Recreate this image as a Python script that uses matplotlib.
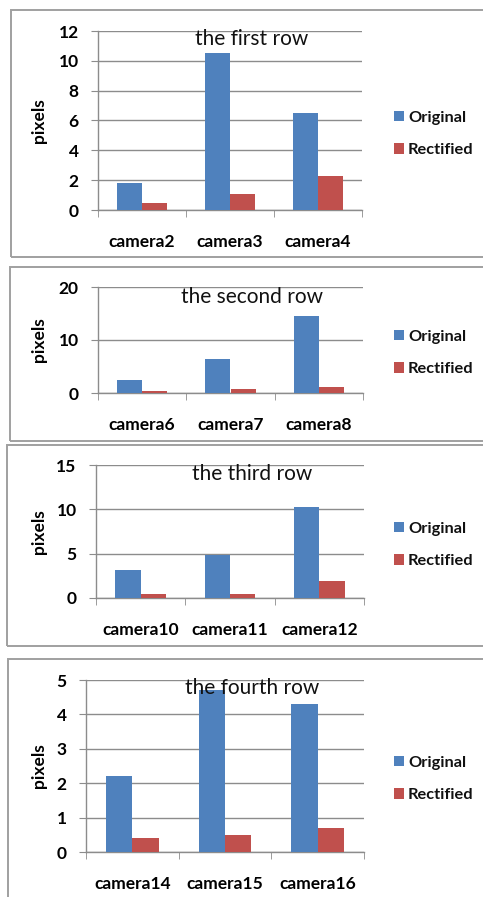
import numpy as np
import matplotlib
matplotlib.use("Agg")
import matplotlib.pyplot as plt
from matplotlib.patches import Rectangle

W, H = 483, 897

# per-row camera errors, in pixels
rows = ["the first row", "the second row", "the third row", "the fourth row"]
cameras = [
    ["camera2", "camera3", "camera4"],
    ["camera6", "camera7", "camera8"],
    ["camera10", "camera11", "camera12"],
    ["camera14", "camera15", "camera16"],
]
original = [
    [1.8, 10.5, 6.5],
    [2.5, 6.4, 14.6],
    [3.2, 4.8, 10.3],
    [2.2, 4.7, 4.3],
]
rectified = [
    [0.5, 1.1, 2.3],
    [0.3, 0.7, 1.1],
    [0.4, 0.5, 1.9],
    [0.4, 0.5, 0.7],
]
y_max = [12, 20, 15, 5]
y_step = [2, 10, 5, 1]

# layout in pixels: axes box (left, top, right, bottom), frame (left, top, bottom),
# title y, legend centre y
axes_px = [(98, 31, 362, 210), (98, 287, 363, 393), (96, 465, 364, 598), (86, 680, 364, 852)]
frame_px = [(11, 10, 257), (10, 267, 441), (7, 445, 646), (8, 659, 905)]
title_y = [39, 297, 474, 688]
legend_y = [134, 353, 545, 779]

BLUE = "#4F81BD"
RED = "#C0504D"
GRID = "#8c8c8c"
TXT = 12.5

plt.rcParams["font.family"] = ["Lato", "DejaVu Sans"]
plt.rcParams["text.color"] = "#111111"

fig = plt.figure(figsize=(W / 100, H / 100), dpi=100)


def to_fig(l, t, r, b):
    return [l / W, 1 - b / H, (r - l) / W, (b - t) / H]


for i in range(4):
    fl, ft, fb = frame_px[i]
    fig.patches.append(Rectangle((fl / W, 1 - fb / H), (W + 20 - fl) / W, (fb - ft) / H,
                                 transform=fig.transFigure, fill=False,
                                 edgecolor="#a0a0a0", linewidth=1.4))

    ax = fig.add_axes(to_fig(*axes_px[i]))
    x = np.arange(len(cameras[i]))
    w = 0.285
    b1 = ax.bar(x - w / 2, original[i], w, color=BLUE, label="Original", zorder=3)
    b2 = ax.bar(x + w / 2, rectified[i], w, color=RED, label="Rectified", zorder=3)

    ax.set_xlim(-0.5, len(x) - 0.5)
    ax.set_ylim(0, y_max[i])
    ax.set_yticks(np.arange(0, y_max[i] + 0.01, y_step[i]))
    ax.yaxis.grid(True, color=GRID, linewidth=1, zorder=0)
    ax.set_axisbelow(True)

    ax.set_xticks(x)
    ax.set_xticklabels(cameras[i], fontsize=TXT, fontweight="bold")
    ax.set_xticks(np.arange(-0.5, len(x), 1), minor=True)
    ax.tick_params(axis="x", which="major", length=0, pad=17)
    ax.tick_params(axis="x", which="minor", length=5, color=GRID, direction="out")
    ax.tick_params(axis="y", length=5, color=GRID, pad=9, labelsize=TXT)
    for lab in ax.get_yticklabels():
        lab.set_fontweight("bold")

    for s in ("top", "right"):
        ax.spines[s].set_visible(False)
    for s in ("left", "bottom"):
        ax.spines[s].set_color(GRID)
        ax.spines[s].set_linewidth(1)

    ax.set_ylabel("pixels", fontsize=TXT, fontweight="bold")
    ax.yaxis.set_label_coords((47 - axes_px[i][0]) / (axes_px[i][2] - axes_px[i][0]), 0.5)

    fig.text(252 / W, 1 - title_y[i] / H, rows[i], ha="center", va="center", fontsize=15)

    fig.legend([b1, b2], ["Original", "Rectified"], loc="center left",
               bbox_to_anchor=(394 / W, 1 - legend_y[i] / H), frameon=False,
               prop={"size": 11.8, "weight": "bold"}, handlelength=0.6, handleheight=0.6,
               handletextpad=0.25, labelspacing=1.15, borderpad=0, borderaxespad=0)

fig.savefig("out.png", dpi=100)
